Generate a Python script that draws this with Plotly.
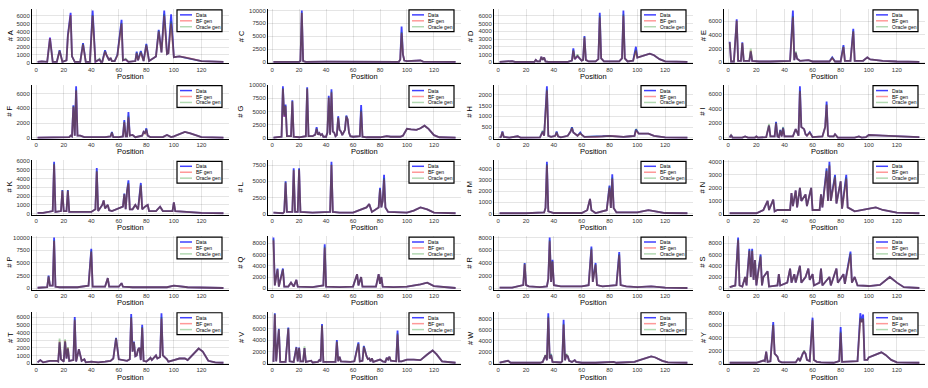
import plotly.graph_objects as go

AAS = ["A", "C", "D", "E", "F", "G", "H", "I", "K", "L",
       "M", "N", "P", "Q", "R", "S", "T", "V", "W", "Y"]

SERIES_NAMES = ["Data", "BF gen", "Oracle gen"]

# ---------------- data (position, counts) ----------------
A_pos = [1, 4, 8, 10, 12, 15, 17, 19, 22, 23,
         25, 26, 28, 32, 34, 36, 39, 41, 43, 46,
         47, 48, 50, 51, 53, 54, 55, 57, 59, 62,
         63, 65, 67, 72, 73, 74, 76, 78, 80, 82,
         87, 89, 91, 93, 95, 96, 98, 100, 104, 110,
         120, 136]
A_data = [100, 150, 100, 3200, 100, 100, 1600, 100, 300, 3500,
          6400, 800, 100, 100, 2500, 100, 100, 6700, 100, 400,
          100, 100, 1600, 1000, 300, 600, 200, 200, 1000, 5500,
          300, 400, 100, 200, 1400, 300, 1500, 200, 2400, 200,
          800, 4200, 1300, 6700, 1100, 1200, 6200, 700, 800, 600,
          200, 100]
A_bf = {10: 3100, 17: 1500, 23: 3300, 25: 6100, 34: 2300, 41: 6000, 50: 1400,
        59: 900, 62: 5000, 73: 1200, 76: 1300, 80: 2200, 89: 4000, 93: 6000, 98: 5000}
A_oracle = {10: 3000, 17: 1550, 23: 3400, 25: 6000, 34: 2400, 41: 6100, 46: 500, 50: 1500,
            59: 950, 62: 5100, 65: 500, 73: 1300, 76: 1400, 80: 2300, 89: 4100, 93: 6200, 98: 5300}

C_pos = [1, 10, 20, 21, 22, 23, 25, 40, 60, 80,
         94, 95, 96, 97, 98, 100, 105, 110, 112, 120,
         136]
C_data = [50, 50, 50, 200, 10000, 200, 50, 80, 60, 50,
          50, 500, 6900, 1500, 300, 200, 250, 300, 100, 50,
          50]
C_bf = {22: 9500, 96: 5600}
C_oracle = {22: 9600, 96: 5800}

D_pos = [1, 5, 10, 12, 26, 27, 28, 30, 31, 32,
         33, 34, 36, 50, 53, 54, 55, 57, 58, 60,
         61, 62, 63, 65, 70, 72, 73, 74, 76, 80,
         87, 89, 90, 91, 93, 97, 99, 100, 104, 109,
         112, 116, 120, 136]
D_data = [50, 80, 150, 50, 50, 300, 100, 100, 700, 300,
          600, 100, 50, 50, 200, 1800, 400, 800, 600, 200,
          300, 3400, 300, 100, 100, 400, 6400, 500, 100, 100,
          100, 500, 6700, 500, 100, 200, 2000, 600, 800, 1100,
          900, 400, 100, 50]
D_bf = {54: 1500, 62: 3200, 73: 5800, 90: 6000, 99: 1500}
D_oracle = {54: 1600, 57: 1000, 62: 3300, 73: 6000, 90: 6200, 99: 1600}

E_pos = [1, 2, 4, 6, 7, 9, 10, 11, 15, 16,
         17, 22, 30, 40, 44, 46, 47, 48, 49, 51,
         57, 60, 72, 74, 76, 80, 82, 83, 87, 89,
         90, 96, 99, 101, 110, 120, 136]
E_data = [3000, 100, 100, 6300, 200, 200, 2900, 200, 200, 1600,
          200, 100, 100, 100, 200, 7600, 300, 1400, 500, 200,
          300, 100, 100, 700, 100, 100, 2500, 200, 200, 4900,
          200, 200, 700, 400, 200, 100, 50]
E_bf = {1: 2900, 6: 6100, 10: 2800, 16: 1700, 46: 6600, 74: 600, 82: 2200, 89: 4500}
E_oracle = {1: 2900, 6: 6100, 10: 2800, 16: 2000, 46: 6800, 48: 1600, 74: 650, 82: 2300, 89: 4600}

F_pos = [1, 20, 24, 25, 26, 27, 28, 29, 30, 32,
         35, 50, 54, 55, 56, 60, 63, 64, 65, 66,
         67, 68, 70, 72, 77, 78, 79, 80, 81, 83,
         92, 95, 98, 100, 104, 108, 112, 117, 120, 136]
F_data = [50, 50, 100, 300, 200, 4400, 300, 7000, 300, 300,
          100, 100, 200, 800, 100, 100, 200, 2400, 200, 200,
          3500, 300, 400, 100, 300, 800, 600, 1300, 300, 100,
          100, 400, 100, 200, 500, 800, 600, 300, 100, 50]
F_bf = {27: 4200, 29: 6400, 55: 700, 64: 2100, 67: 2800, 80: 1100}
F_oracle = {27: 4300, 29: 6500, 55: 750, 64: 2200, 67: 3000, 80: 1200}

G_pos = [1, 5, 7, 8, 9, 10, 11, 14, 15, 16,
         20, 25, 26, 27, 30, 32, 33, 34, 35, 36,
         37, 38, 40, 41, 42, 43, 44, 45, 46, 47,
         48, 49, 50, 51, 52, 54, 55, 56, 57, 58,
         60, 65, 66, 67, 70, 80, 85, 88, 95, 97,
         100, 103, 107, 110, 113, 116, 120, 124, 136]
G_data = [50, 100, 200, 9800, 4000, 6300, 300, 300, 7100, 200,
          100, 300, 9600, 300, 300, 600, 2000, 600, 900, 500,
          700, 200, 200, 1000, 8000, 600, 9200, 1200, 1000, 300,
          500, 4100, 1500, 1200, 500, 1500, 4200, 3500, 1000, 300,
          200, 300, 6200, 200, 100, 100, 300, 200, 200, 400,
          1700, 1600, 1500, 1800, 2300, 1700, 500, 100, 50]
G_bf = {8: 9300, 10: 6000, 15: 6900, 26: 9300, 33: 1700, 42: 7600, 44: 8600,
        49: 3800, 55: 4000, 66: 5000}
G_oracle = {8: 9400, 9: 4300, 10: 6100, 15: 7000, 26: 9400, 33: 1800, 42: 7700, 44: 8800,
            49: 3900, 55: 4100, 66: 5200}

H_pos = [1, 2, 3, 4, 8, 14, 16, 30, 32, 33,
         35, 36, 38, 41, 42, 43, 45, 50, 52, 53,
         54, 56, 57, 59, 60, 62, 70, 75, 80, 84,
         90, 95, 98, 99, 101, 108, 112, 120, 136]
H_data = [20, 50, 300, 50, 20, 80, 20, 30, 300, 100,
          2400, 100, 50, 100, 300, 80, 30, 100, 300, 500,
          250, 150, 100, 250, 150, 50, 50, 80, 100, 80,
          50, 80, 100, 400, 200, 200, 100, 30, 20]
H_bf = {3: 280, 32: 280, 35: 2200, 42: 250, 53: 450, 59: 200, 99: 350}
H_oracle = {3: 290, 32: 350, 35: 2250, 42: 280, 53: 480, 59: 230, 99: 420}

I_pos = [1, 2, 3, 10, 12, 14, 19, 20, 21, 27,
         29, 30, 33, 34, 35, 36, 37, 38, 39, 40,
         46, 48, 49, 50, 51, 52, 54, 55, 56, 58,
         60, 67, 69, 70, 71, 72, 75, 76, 78, 90,
         93, 95, 98, 100, 110, 120, 136]
I_data = [50, 400, 50, 50, 200, 50, 50, 200, 50, 100,
          1700, 200, 200, 2200, 200, 100, 1100, 200, 1400, 200,
          200, 1200, 800, 300, 7100, 1500, 1200, 500, 300, 800,
          100, 200, 1500, 5000, 300, 200, 200, 500, 50, 50,
          200, 50, 100, 400, 300, 200, 100]
I_bf = {2: 350, 34: 2000, 37: 1000, 39: 1300, 51: 6400, 58: 700, 70: 4500}
I_oracle = {2: 380, 29: 1900, 34: 2100, 39: 1500, 51: 6500, 58: 750, 70: 4600}

K_pos = [1, 5, 12, 13, 14, 18, 19, 20, 22, 23,
         24, 30, 40, 43, 44, 45, 48, 49, 50, 52,
         53, 55, 63, 64, 65, 66, 67, 68, 70, 72,
         74, 76, 77, 79, 81, 82, 87, 90, 92, 99,
         100, 101, 110, 120, 136]
K_data = [100, 100, 300, 5900, 200, 300, 2700, 300, 300, 2700,
          200, 200, 200, 500, 5200, 300, 1000, 1500, 600, 1000,
          400, 300, 800, 2300, 500, 2600, 3800, 500, 500, 1000,
          500, 3500, 500, 800, 1000, 300, 300, 800, 300, 300,
          1300, 300, 200, 100, 50]
K_bf = {13: 5600, 19: 2600, 23: 2600, 44: 4800, 64: 2200, 67: 3400, 76: 3200}
K_oracle = {13: 5700, 19: 2650, 23: 2650, 44: 4900, 64: 2250, 67: 3500, 76: 3300}

L_pos = [1, 8, 9, 10, 11, 15, 16, 17, 19, 20,
         21, 30, 43, 44, 45, 50, 60, 70, 72, 74,
         79, 80, 81, 82, 83, 84, 86, 100, 105, 110,
         115, 120, 136]
L_data = [200, 100, 300, 5000, 300, 300, 7000, 300, 300, 7000,
          300, 200, 300, 8000, 300, 200, 200, 1000, 1500, 300,
          1000, 4000, 1000, 2000, 6000, 1000, 300, 200, 500, 1000,
          700, 200, 100]
L_bf = {10: 4800, 16: 6700, 20: 6800, 44: 7500, 80: 3700, 83: 5300}
L_oracle = {10: 4900, 16: 6800, 20: 6900, 44: 7600, 80: 3800, 83: 5500}

M_pos = [1, 20, 33, 34, 35, 36, 40, 60, 64, 66,
         67, 70, 78, 80, 81, 82, 83, 85, 100, 108,
         115, 120, 136]
M_data = [30, 30, 100, 500, 4600, 200, 50, 50, 300, 1300,
          300, 50, 300, 2500, 500, 3500, 500, 100, 100, 300,
          150, 50, 30]
M_bf = {35: 4300, 80: 2300, 82: 3100}
M_oracle = {35: 4400, 80: 2400, 82: 3200}

N_pos = [1, 20, 25, 28, 29, 32, 33, 35, 44, 45,
         46, 48, 49, 51, 52, 55, 56, 59, 60, 65,
         66, 67, 70, 71, 72, 73, 76, 77, 80, 81,
         84, 85, 90, 100, 105, 110, 120, 136]
N_data = [50, 50, 300, 1000, 300, 1100, 200, 300, 300, 1600,
          600, 1800, 500, 2000, 1000, 1500, 600, 2000, 300, 300,
          1500, 500, 3500, 1000, 4000, 1000, 3000, 800, 2500, 400,
          3000, 500, 200, 400, 500, 300, 100, 50]
N_bf = {70: 3300, 72: 3700, 76: 2800, 84: 2700}
N_oracle = {70: 3400, 72: 3800, 76: 2900, 84: 2800}

P_pos = [1, 8, 9, 10, 12, 13, 14, 17, 30, 38,
         40, 41, 50, 52, 53, 60, 62, 63, 70, 80,
         95, 100, 105, 110, 136]
P_data = [100, 200, 2500, 500, 500, 10000, 300, 200, 200, 500,
          7800, 300, 300, 2000, 300, 300, 1000, 300, 200, 200,
          200, 500, 400, 200, 50]
P_bf = {9: 2300, 13: 9300, 40: 7200}
P_oracle = {9: 2400, 13: 9500, 40: 7400}

Q_pos = [1, 2, 4, 5, 8, 9, 12, 14, 16, 18,
         19, 30, 38, 39, 40, 50, 60, 63, 64, 66,
         67, 77, 79, 80, 81, 82, 90, 100, 110, 115,
         120, 136]
Q_data = [9000, 500, 3500, 300, 3500, 300, 300, 1000, 300, 1500,
          300, 200, 500, 7800, 300, 200, 300, 2500, 500, 2000,
          300, 300, 2500, 800, 2000, 300, 200, 300, 700, 1000,
          400, 50]
Q_bf = {1: 8500, 4: 3300, 8: 3300, 39: 7200}
Q_oracle = {1: 8700, 4: 3400, 8: 3400, 39: 7400}

R_pos = [1, 10, 18, 19, 20, 22, 30, 35, 36, 37,
         38, 39, 40, 45, 55, 60, 65, 67, 68, 70,
         71, 75, 85, 87, 88, 92, 100, 110, 120, 136]
R_data = [100, 100, 500, 4000, 500, 300, 200, 300, 1500, 8000,
          1000, 4500, 500, 300, 300, 300, 500, 6600, 1000, 4000,
          500, 300, 500, 5700, 500, 300, 200, 300, 100, 50]
R_bf = {19: 3800, 37: 7400, 39: 4200, 67: 6100, 70: 3700, 87: 5200}
R_oracle = {19: 3900, 37: 7600, 39: 4300, 67: 6300, 70: 3800, 87: 5400}

S_pos = [1, 5, 7, 8, 10, 12, 13, 15, 16, 17,
         18, 19, 20, 23, 24, 25, 28, 29, 35, 36,
         37, 42, 44, 45, 47, 48, 51, 52, 55, 57,
         58, 60, 61, 65, 66, 67, 72, 73, 77, 78,
         82, 83, 87, 88, 90, 92, 100, 108, 115, 120,
         125, 136]
S_data = [200, 500, 9000, 500, 300, 2000, 500, 7000, 2000, 7000,
          1500, 5000, 500, 6000, 500, 2000, 3000, 300, 500, 2500,
          500, 1000, 3500, 1000, 2500, 1000, 4000, 1000, 2000, 3500,
          1500, 2500, 500, 1000, 3500, 500, 2000, 500, 3500, 1000,
          2500, 800, 6500, 1000, 2000, 500, 400, 600, 2000, 1000,
          200, 50]
S_bf = {7: 8500, 15: 6600, 17: 6600, 23: 5600, 87: 6000}
S_oracle = {7: 8700, 15: 6800, 17: 6800, 23: 5800, 87: 6200}

T_pos = [1, 3, 5, 10, 15, 16, 17, 18, 20, 21,
         22, 23, 24, 27, 28, 29, 31, 32, 33, 35,
         36, 40, 45, 50, 54, 56, 58, 60, 62, 66,
         68, 69, 70, 71, 72, 73, 74, 75, 76, 77,
         78, 80, 82, 83, 84, 86, 87, 88, 90, 91,
         92, 95, 96, 100, 104, 108, 110, 118, 121, 125,
         130, 136]
T_data = [100, 400, 100, 300, 300, 200, 2700, 500, 200, 2800,
          600, 1900, 300, 400, 6000, 200, 1800, 800, 300, 500,
          100, 200, 100, 200, 300, 600, 3300, 500, 400, 300,
          500, 6400, 1500, 2800, 900, 1000, 1800, 2000, 400, 5000,
          300, 200, 500, 700, 400, 800, 1000, 600, 800, 6500,
          1000, 500, 200, 400, 600, 600, 400, 1900, 1500, 300,
          100, 50]
T_bf = {17: 2800, 21: 2900, 23: 2000, 28: 5600, 58: 3200, 69: 5900, 71: 2700, 77: 4600, 91: 5800}
T_oracle = {17: 3200, 21: 3100, 23: 2100, 28: 5700, 58: 3250, 69: 6000, 71: 2750, 77: 4700, 91: 6000}

V_pos = [1, 2, 3, 5, 6, 10, 12, 13, 16, 18,
         19, 20, 21, 23, 24, 25, 29, 30, 34, 35,
         36, 37, 38, 47, 48, 49, 50, 51, 58, 61,
         64, 65, 67, 68, 70, 71, 72, 73, 74, 75,
         80, 82, 84, 85, 86, 87, 88, 92, 93, 94,
         96, 100, 105, 110, 115, 119, 122, 126, 136]
V_data = [200, 8700, 300, 6000, 200, 200, 6200, 300, 200, 2800,
          300, 2700, 300, 300, 2600, 200, 400, 100, 200, 500,
          300, 6800, 200, 200, 4000, 300, 1100, 300, 200, 300,
          3600, 300, 400, 3000, 1200, 700, 800, 300, 800, 200,
          600, 300, 200, 900, 600, 1100, 400, 300, 5700, 300,
          300, 600, 600, 500, 1500, 2200, 1500, 300, 50]
V_bf = {2: 8500, 5: 5800, 12: 6000, 18: 2700, 20: 2600, 24: 2600, 37: 6500, 48: 3700,
        64: 3300, 68: 2800, 93: 5000}
V_oracle = {2: 8600, 5: 5900, 12: 6100, 18: 2750, 20: 2650, 24: 2900, 37: 6600, 48: 3800,
            64: 3400, 68: 2900, 93: 5200}

W_pos = [1, 7, 9, 30, 32, 33, 34, 35, 36, 37,
         38, 39, 45, 46, 47, 48, 49, 50, 51, 53,
         55, 56, 60, 70, 83, 85, 98, 100, 105, 110,
         113, 118, 122, 136]
W_data = [50, 400, 50, 50, 200, 1000, 1400, 500, 9000, 800,
          1500, 200, 100, 300, 7800, 500, 1400, 1200, 400, 200,
          500, 200, 50, 50, 200, 50, 200, 400, 800, 1200,
          1000, 400, 100, 50]
W_bf = {36: 8200, 38: 1400, 47: 6900}
W_oracle = {34: 1500, 36: 8400, 38: 1700, 47: 7100, 49: 1700}

Y_pos = [1, 20, 25, 26, 27, 28, 30, 32, 33, 34,
         35, 36, 38, 48, 50, 51, 52, 53, 54, 55,
         56, 58, 60, 61, 63, 66, 75, 79, 80, 81,
         92, 94, 95, 96, 97, 99, 100, 103, 106, 109,
         112, 116, 120, 136]
Y_data = [50, 50, 400, 300, 1800, 200, 300, 6500, 1500, 1300,
          1000, 300, 100, 100, 800, 300, 1000, 1500, 1800, 1500,
          500, 300, 7200, 500, 200, 100, 50, 300, 5700, 200,
          300, 7900, 6500, 7700, 500, 500, 900, 1200, 1400, 1700,
          1300, 500, 100, 50]
Y_bf = {32: 6000, 60: 6800, 80: 4800, 94: 7000, 96: 7000}
Y_oracle = {32: 6100, 54: 2000, 60: 6900, 80: 5000, 94: 7200, 96: 7100}

# y tick values per panel
Y_TICKS = {
    "A": [0, 1000, 2000, 3000, 4000, 5000, 6000],
    "C": [0, 2500, 5000, 7500, 10000],
    "D": [0, 1000, 2000, 3000, 4000, 5000, 6000],
    "E": [0, 2000, 4000, 6000],
    "F": [0, 2000, 4000, 6000],
    "G": [0, 2500, 5000, 7500, 10000],
    "H": [0, 500, 1000, 1500, 2000],
    "I": [0, 2000, 4000, 6000],
    "K": [0, 1000, 2000, 3000, 4000, 5000, 6000],
    "L": [0, 2500, 5000, 7500, 10000],
    "M": [0, 1000, 2000, 3000, 4000],
    "N": [0, 1000, 2000, 3000, 4000],
    "P": [0, 2500, 5000, 7500, 10000],
    "Q": [0, 2000, 4000, 6000, 8000],
    "R": [0, 2000, 4000, 6000, 8000],
    "S": [0, 2000, 4000, 6000, 8000],
    "T": [0, 1000, 2000, 3000, 4000, 5000, 6000],
    "V": [0, 2000, 4000, 6000, 8000],
    "W": [0, 2000, 4000, 6000, 8000],
    "Y": [0, 2000, 4000, 6000, 8000],
}
X_TICKS = [0, 20, 40, 60, 80, 100, 120]

# ---------------- styling / geometry ----------------
LINE_COLORS = ["rgba(0,0,255,0.75)", "rgba(255,0,0,0.4)", "rgba(0,128,0,0.3)"]
FONT = "Liberation Sans"
W, H = 928, 388
COL_LEFT = [32, 268, 494, 724]
COL_RIGHT = [229, 461, 693, 925]
ROW_TOP = [7, 83.5, 160, 236.5, 313]
ROW_BOTTOM = [62, 138.5, 215, 290.5, 366]
YTITLE_X = [10, 241, 470, 703]


def fx(v):
    return v / W


def fy(v):
    return 1 - v / H


fig = go.Figure()
shapes = []
annotations = []
g = globals()

for i, aa in enumerate(AAS):
    r, c = divmod(i, 4)
    n = i + 1
    xid = "x" if n == 1 else f"x{n}"
    yid = "y" if n == 1 else f"y{n}"
    xkey = "xaxis" if n == 1 else f"xaxis{n}"
    ykey = "yaxis" if n == 1 else f"yaxis{n}"

    pos = g[f"{aa}_pos"]
    data = g[f"{aa}_data"]
    assert len(pos) == len(data), aa
    bf_map = dict(zip(pos, data))
    bf_map.update(g[f"{aa}_bf"])
    or_map = dict(zip(pos, data))
    or_map.update(g[f"{aa}_oracle"])
    bf = [bf_map[p] for p in pos]
    orc = [or_map[p] for p in pos]

    for name, ys, col in zip(SERIES_NAMES, [data, bf, orc], LINE_COLORS):
        fig.add_trace(go.Scatter(x=pos, y=ys, mode="lines", name=name,
                                 line=dict(color=col, width=1.8),
                                 xaxis=xid, yaxis=yid, showlegend=False,
                                 hoverinfo="skip"))

    allv = data + bf + orc
    ymin, ymax = min(allv), max(allv)
    pad = 0.03 * (ymax - ymin)
    xpad = 0.03 * (max(pos) - min(pos))

    left, right = COL_LEFT[c], COL_RIGHT[c]
    top, bottom = ROW_TOP[r], ROW_BOTTOM[r]

    fig.layout[xkey] = dict(
        domain=[fx(left), fx(right)], anchor=yid,
        range=[min(pos) - xpad, max(pos) + xpad],
        tickvals=X_TICKS, ticktext=[str(t) for t in X_TICKS],
        showgrid=True, gridcolor="rgba(0,0,0,0.1)", gridwidth=0.5,
        showline=True, linecolor="black", linewidth=1, zeroline=False,
        ticks="", tickfont=dict(family=FONT, size=6, color="#333"),
    )
    yt = Y_TICKS[aa]
    fig.layout[ykey] = dict(
        domain=[fy(bottom), fy(top)], anchor=xid,
        range=[ymin - pad, ymax + pad],
        tickvals=yt, ticktext=[str(t) for t in yt],
        showgrid=True, gridcolor="rgba(0,0,0,0.1)", gridwidth=0.5,
        showline=True, linecolor="black", linewidth=1, zeroline=False,
        ticks="", tickfont=dict(family=FONT, size=6, color="#333"),
    )

    # axis titles
    annotations.append(dict(text="Position", xref="paper", yref="paper",
                            x=fx((left + right) / 2), y=fy(bottom + 13),
                            xanchor="center", yanchor="middle", showarrow=False,
                            font=dict(family=FONT, size=7.5, color="black")))
    annotations.append(dict(text=f"# {aa}", xref="paper", yref="paper",
                            x=fx(YTITLE_X[c]), y=fy((top + bottom) / 2),
                            xanchor="center", yanchor="middle", showarrow=False,
                            textangle=-90,
                            font=dict(family=FONT, size=7.5, color="black")))

    # legend box
    lr = right - 7
    ll = lr - 45
    lt = top + 1
    lb = lt + 22
    shapes.append(dict(type="rect", xref="paper", yref="paper",
                       x0=fx(ll), x1=fx(lr), y0=fy(lb), y1=fy(lt),
                       fillcolor="white", line=dict(color="black", width=1.2),
                       layer="above"))
    for k, (name, col) in enumerate(zip(SERIES_NAMES, LINE_COLORS)):
        yy = lt + 5 + k * 6
        shapes.append(dict(type="line", xref="paper", yref="paper",
                           x0=fx(ll + 3), x1=fx(ll + 15), y0=fy(yy), y1=fy(yy),
                           line=dict(color=col, width=1.5), layer="above"))
        annotations.append(dict(text=name, xref="paper", yref="paper",
                                x=fx(ll + 17), y=fy(yy), xanchor="left",
                                yanchor="middle", showarrow=False,
                                font=dict(family=FONT, size=5, color="black")))

fig.update_layout(width=W, height=H, margin=dict(l=0, r=0, t=0, b=0),
                  paper_bgcolor="white", plot_bgcolor="white",
                  shapes=shapes, annotations=annotations, showlegend=False)

fig.write_html("out.html")
